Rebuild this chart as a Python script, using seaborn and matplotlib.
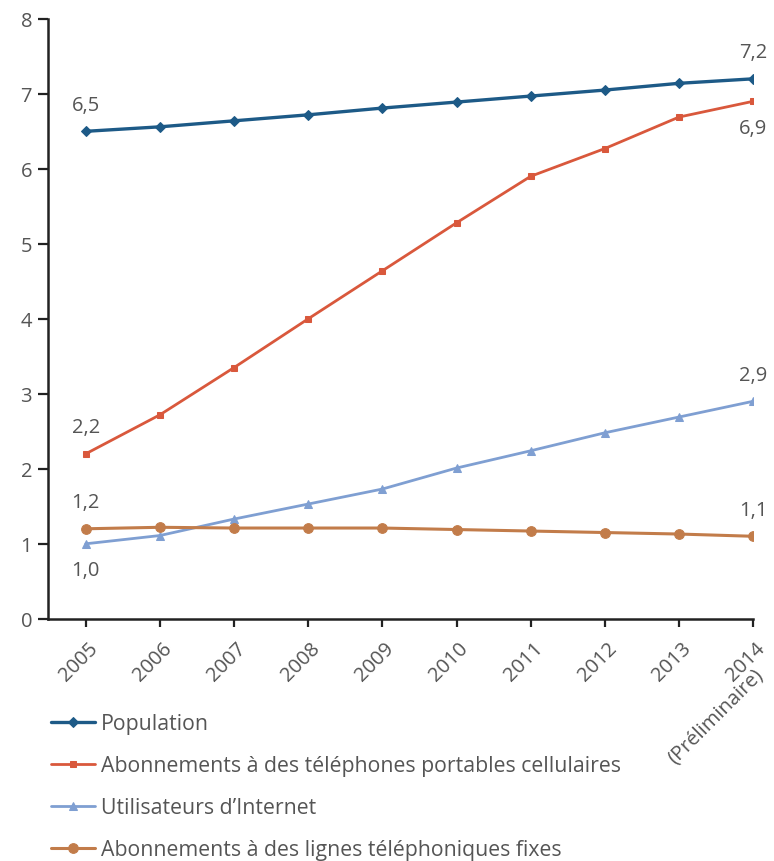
import matplotlib
matplotlib.use("Agg")
import matplotlib.pyplot as plt
import seaborn as sns
import pandas as pd

years = ["2005", "2006", "2007", "2008", "2009", "2010", "2011", "2012", "2013", "2014"]
last_year_note = "(Préliminaire)"
population = [6.5, 6.56, 6.64, 6.72, 6.81, 6.89, 6.97, 7.05, 7.14, 7.2]
mobile = [2.2, 2.72, 3.35, 4.0, 4.64, 5.28, 5.9, 6.27, 6.69, 6.9]
internet = [1.0, 1.11, 1.33, 1.53, 1.73, 2.01, 2.24, 2.48, 2.69, 2.9]
fixed = [1.2, 1.22, 1.21, 1.21, 1.21, 1.19, 1.17, 1.15, 1.13, 1.1]

series_names = ["Population",
                "Abonnements à des téléphones portables cellulaires",
                "Utilisateurs d’Internet",
                "Abonnements à des lignes téléphoniques fixes"]
series_values = [population, mobile, internet, fixed]
colors = ["#1d5a87", "#d9583c", "#7f9fd2", "#c27c4a"]
markers = ["D", "s", "^", "o"]
marker_sizes = [5, 5, 6, 7]
line_widths = [2.4, 2.0, 2.0, 2.2]

sns.set_style("white")
plt.rcParams["font.family"] = ["Open Sans", "DejaVu Sans"]
text_color = "#555555"
fs = 14.5
legend_fs = 15.3

fig = plt.figure(figsize=(7.74, 8.62), dpi=100)
ax = fig.add_axes([0.062, 0.281, 0.911, 0.696])

x = list(range(len(years)))
for name, vals, c, m, ms, lw in zip(series_names, series_values, colors, markers,
                                    marker_sizes, line_widths):
    df = pd.DataFrame({"x": x, "y": vals})
    sns.lineplot(data=df, x="x", y="y", ax=ax, color=c, marker=m, markersize=ms,
                 markeredgecolor=c, linewidth=lw, label=name)

def fmt(v):
    return f"{v:.1f}".replace(".", ",")

# value labels at the first and last years
label_offsets = [((0, 19), (0, 19)), ((0, 19), (0, -19)), ((0, -19), (0, 19)),
                 ((0, 19), (0, 19))]
for vals, (off0, off1) in zip(series_values, label_offsets):
    for xi, off in ((0, off0), (len(vals) - 1, off1)):
        ax.annotate(fmt(vals[xi]), (x[xi], vals[xi]), xytext=off,
                    textcoords="offset points", ha="center", va="center",
                    fontsize=fs, color=text_color)

ax.set_xlim(-0.51, 9.0)
ax.set_ylim(0, 8)
ax.set_yticks(range(0, 9))
ax.set_xticks(x)
ax.set_xticklabels([])
ax.set_xlabel("")
ax.set_ylabel("")
for s in ("top", "right"):
    ax.spines[s].set_visible(False)
for s in ("left", "bottom"):
    ax.spines[s].set_color("#222222")
    ax.spines[s].set_linewidth(1.8)
ax.tick_params(axis="both", which="major", width=1.6, color="#222222",
               labelsize=fs, labelcolor=text_color, direction="out",
               left=True, bottom=True)
ax.tick_params(axis="y", length=7.5, pad=4)
ax.tick_params(axis="x", length=5.5)

# rotated year labels, their right ends just past each tick
for xi, yr in zip(x, years):
    ax.annotate(yr, xy=(xi, 0), xycoords=("data", "axes fraction"),
                xytext=(6.5, -18.5), textcoords="offset points", rotation=45,
                rotation_mode="anchor", ha="right", va="center",
                fontsize=fs, color=text_color, annotation_clip=False)

# second line under the last year
ax.annotate(last_year_note, xy=(x[-1], 0), xycoords=("data", "axes fraction"),
            xytext=(5, -37.5), textcoords="offset points", rotation=45,
            rotation_mode="anchor", ha="right", va="center",
            fontsize=fs, color=text_color, annotation_clip=False)

handles, labels = ax.get_legend_handles_labels()
ax.get_legend().remove()
fig.legend(handles, labels, loc="upper left", bbox_to_anchor=(0.055, 0.181),
           frameon=False, fontsize=legend_fs, labelcolor=text_color,
           handlelength=2.05, handletextpad=0.3, labelspacing=0.98,
           borderaxespad=0)

fig.savefig("out.png", dpi=100)
